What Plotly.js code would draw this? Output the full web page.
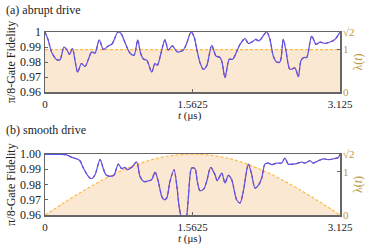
<!DOCTYPE html>
<html>
<head>
<meta charset="utf-8">
<script src="https://cdn.plot.ly/plotly-3.0.1.min.js"></script>
<style>body{margin:0;background:#fff}#chart{width:374px;height:244px}</style>
</head>
<body>
<div id="chart"></div>
<script>
// (a) abrupt drive: fidelity vs t (us)
var tA = [0, 0.032, 0.074, 0.127, 0.159, 0.201, 0.233, 0.26, 0.291, 0.318, 0.346, 0.386, 0.424, 0.461, 0.494, 0.53,
  0.575, 0.618, 0.67, 0.71, 0.773, 0.805, 0.847, 0.9, 0.943, 0.982, 1.012, 1.043, 1.08, 1.13, 1.165, 1.19, 1.229,
  1.271, 1.306, 1.349, 1.402, 1.465, 1.504, 1.547, 1.578, 1.61, 1.642, 1.677, 1.713, 1.766, 1.811, 1.854, 1.875,
  1.907, 1.952, 1.988, 2.066, 2.118, 2.154, 2.19, 2.235, 2.26, 2.285, 2.348, 2.383, 2.418, 2.454, 2.489, 2.524,
  2.553, 2.595, 2.648, 2.683, 2.712, 2.743, 2.772, 2.825, 2.871, 2.913, 2.966, 3.019, 3.072, 3.125];
var fidA = [1.0, 0.995, 0.986, 0.9815, 0.9815, 0.99, 0.988, 0.985, 0.989, 0.981, 0.9733, 0.979, 0.977, 0.982, 0.9867, 0.986,
  0.9947, 0.9884, 0.9907, 0.992, 1.0, 0.999, 0.993, 0.986, 0.9845, 0.9947, 0.986, 0.982, 0.981, 0.9733, 0.979, 0.9778, 0.986,
  0.9947, 0.988, 0.9907, 0.9867, 0.988, 0.993, 1.0, 0.997, 0.988, 0.9796, 0.9751, 0.9775, 0.9911, 0.984, 0.983, 0.98,
  0.9696, 0.9818, 0.9818, 0.9918, 0.9956, 0.9924, 0.9933, 0.9951, 0.994, 0.9951, 1.0, 0.995, 0.984, 0.98, 0.98, 0.9951,
  0.9873, 0.9751, 0.976, 0.9702, 0.981, 0.983, 0.983, 0.9973, 0.9918, 0.9933, 0.9924, 0.9933, 0.9951, 1.0];
var lamA_t = [0, 3.125];
var lamA = [1, 1];

// (b) smooth drive
var tB = [0, 0.159, 0.23, 0.283, 0.335, 0.37, 0.406, 0.459, 0.494, 0.53, 0.583, 0.618, 0.646, 0.689, 0.73, 0.777,
  0.812, 0.847, 0.872, 0.918, 0.971, 1.006, 1.041, 1.077, 1.13, 1.165, 1.2, 1.236, 1.261, 1.289, 1.324, 1.367, 1.395,
  1.423, 1.458, 1.494, 1.518, 1.554, 1.589, 1.613, 1.642, 1.684, 1.713, 1.755, 1.801, 1.825, 1.872, 1.907, 1.942,
  1.978, 2.03, 2.066, 2.101, 2.154, 2.19, 2.225, 2.26, 2.296, 2.33, 2.366, 2.401, 2.454, 2.507, 2.542, 2.577, 2.63,
  2.683, 2.719, 2.754, 2.807, 2.842, 2.895, 2.948, 3.001, 3.054, 3.107, 3.125];
var fidB = [0.9998, 0.9998, 0.9995, 0.9978, 0.9969, 0.9956, 0.9908, 0.9854, 0.9838, 0.9864, 0.9963, 0.9904, 0.9864, 0.9854, 0.9862, 0.9934,
  0.9904, 0.9913, 0.9897, 0.9913, 0.9948, 0.9854, 0.9821, 0.9821, 0.9832, 0.9882, 0.9821, 0.9723, 0.97, 0.9711, 0.9821, 0.9897, 0.9799,
  0.9646, 0.956, 0.958, 0.9711, 0.9908, 0.9904, 0.9821, 0.976, 0.9773, 0.9821, 0.9913, 0.9864, 0.9825, 0.9875, 0.981, 0.986,
  0.9832, 0.97, 0.9679, 0.9755, 0.9934, 0.9864, 0.9777, 0.9795, 0.9843, 0.9934, 0.9941, 0.993, 0.9941, 0.9941, 0.9974, 0.9934, 0.9934,
  0.9941, 0.9948, 0.9941, 0.9956, 0.9941, 0.9956, 0.9969, 0.9963, 0.9969, 0.9978, 1.0];
var lamB_t = [0, 0.195, 0.391, 0.586, 0.781, 0.977, 1.172, 1.367, 1.5625, 1.758, 1.953, 2.148, 2.344, 2.539, 2.734, 2.93, 3.125];
var lamB = [0, 0.276, 0.541, 0.786, 1.0, 1.176, 1.307, 1.387, 1.414, 1.387, 1.307, 1.176, 1.0, 0.786, 0.541, 0.276, 0];

var xTicks = [0, 1.5625, 3.125];
var xTickText = ['0', '1.5625', '3.125'];
var lamTicks = [0, 1, Math.SQRT2];
var lamTickText = ['0', '1', '√2'];

var blue = 'rgb(85,85,235)';
var red = 'rgb(230,40,60)';
var gold = 'rgb(190,150,60)';
var orange = 'rgb(255,185,70)';
var fill = 'rgb(250,232,210)';
var frame = '#666';

function lamTrace(x, y, ya) {
    return {x: x, y: y, xaxis: ya == 'y' ? 'x' : 'x2', yaxis: ya, mode: 'lines', fill: 'tozeroy', fillcolor: fill,
        line: {color: orange, width: 1.2, dash: '3px,2px', shape: 'spline'}, hoverinfo: 'skip'};
}
function fidTrace(x, y, xa, ya, col, w, dash) {
    return {x: x, y: y, xaxis: xa, yaxis: ya, mode: 'lines',
        line: {color: col, width: w, dash: dash, shape: 'spline', smoothing: 0.8}};
}

var traces = [
    lamTrace(lamA_t, lamA, 'y'),
    fidTrace(tA, fidA, 'x', 'y2', red, 1.2, 'dot'),
    fidTrace(tA, fidA, 'x', 'y2', blue, 1.2, 'solid'),
    lamTrace(lamB_t, lamB, 'y3'),
    fidTrace(tB, fidB, 'x2', 'y4', red, 1.2, 'dot'),
    fidTrace(tB, fidB, 'x2', 'y4', blue, 1.2, 'solid')
];

function xAx(anchor) {
    return {anchor: anchor, range: [0, 3.125], tickvals: xTicks, ticktext: xTickText, ticks: 'inside', ticklen: 3,
        tickcolor: frame, showline: true, linecolor: frame, linewidth: 1.5, mirror: true, showgrid: false, zeroline: false,
        tickfont: {size: 11}, ticklabelstandoff: 1};
}
function lamAx(domain, anchor) {
    return {domain: domain, anchor: anchor, side: 'right', range: [0, Math.SQRT2], tickvals: lamTicks, ticktext: lamTickText,
        ticks: 'inside', ticklen: 3, tickcolor: frame, showgrid: false, zeroline: false, showline: false,
        tickfont: {size: 11, color: gold}, ticklabelstandoff: 2,
        title: {text: 'λ(<i>t</i>)', font: {size: 12, color: gold}, standoff: 0}};
}
function fidAx(over, anchor, fmt) {
    return {overlaying: over, anchor: anchor, side: 'left', range: [0.96, 1.0], dtick: 0.01, tickformat: fmt,
        ticks: 'inside', ticklen: 3, tickcolor: frame, showline: true, linecolor: frame, linewidth: 1.5, mirror: true,
        showgrid: false, zeroline: false, tickfont: {size: 12},
        title: {text: 'π/8-Gate Fidelity', font: {size: 12}, standoff: 2}};
}

function note(text, x, y, xanchor, size) {
    return {text: text, xref: 'paper', yref: 'paper', x: x, y: y, xanchor: xanchor, yanchor: 'middle',
        showarrow: false, font: {size: size}};
}

var layout = {
    width: 374, height: 244,
    margin: {l: 45, r: 34, t: 32, b: 29},
    paper_bgcolor: 'white', plot_bgcolor: 'white',
    showlegend: false,
    font: {family: '"Liberation Serif", "DejaVu Serif", serif', size: 12, color: '#222'},
    xaxis: xAx('y'),
    xaxis2: xAx('y3'),
    yaxis: lamAx([0.672, 1], 'x'),
    yaxis2: fidAx('y', 'x', ''),
    yaxis3: lamAx([0, 0.333], 'x2'),
    yaxis4: fidAx('y3', 'x2', '.2f'),
    annotations: [
        note('(a) abrupt drive', -0.14, 1.12, 'left', 12),
        note('(b) smooth drive', -0.14, 0.464, 'left', 12),
        note('<i>t</i> (μs)', 0.49, 0.545, 'center', 11),
        note('<i>t</i> (μs)', 0.49, -0.126, 'center', 11)
    ]
};

Plotly.newPlot('chart', traces, layout, {displayModeBar: false, staticPlot: true});
</script>
</body>
</html>
